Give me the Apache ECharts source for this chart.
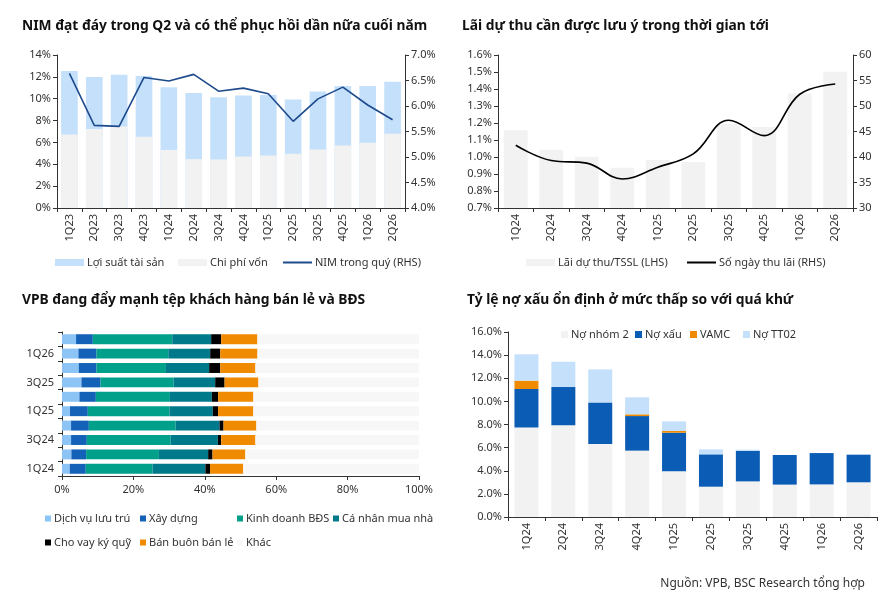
<!DOCTYPE html>
<html>
<head>
<meta charset="utf-8">
<script src="https://cdn.jsdelivr.net/npm/echarts@6/dist/echarts.min.js"></script>
<style>
  html, body { margin: 0; padding: 0; background: #fff; }
  #chart { width: 887px; height: 601px; }
</style>
</head>
<body>
<div id="chart"></div>
<script>
// Biểu đồ 1: NIM
const nimCats = ['1Q23', '2Q23', '3Q23', '4Q23', '1Q24', '2Q24', '3Q24', '4Q24', '1Q25', '2Q25', '3Q25', '4Q25', '1Q26', '2Q26'];
const assetYield = [12.54, 11.99, 12.2, 12.08, 11.05, 10.53, 10.13, 10.29, 10.35, 9.92, 10.65, 11.17, 11.17, 11.56];
const fundingCost = [6.73, 7.24, 7.46, 6.51, 5.30, 4.47, 4.44, 4.72, 4.81, 4.96, 5.36, 5.72, 5.96, 6.79];
const nimQuarter = [6.64, 5.62, 5.60, 6.56, 6.49, 6.62, 6.29, 6.35, 6.24, 5.70, 6.14, 6.37, 6.02, 5.73];

// Biểu đồ 2: lãi dự thu
const accrCats = ['1Q24', '2Q24', '3Q24', '4Q24', '1Q25', '2Q25', '3Q25', '4Q25', '1Q26', '2Q26'];
const accruedRatio = [1.158, 1.042, 1.001, 0.937, 0.982, 0.970, 1.195, 1.177, 1.373, 1.502];
const interestDays = [42.3, 39.3, 38.8, 35.7, 38.0, 40.6, 47.2, 44.2, 52.3, 54.3];

// Biểu đồ 3: cơ cấu cho vay (từ 1Q24 đến 2Q26)
const loanCats = ['1Q24', '2Q24', '3Q24', '4Q24', '1Q25', '2Q25', '3Q25', '4Q25', '1Q26', '2Q26'];
const loanLodging = [2.16, 2.63, 2.54, 2.54, 2.25, 4.88, 5.45, 4.69, 4.6, 3.94];
const loanConstruction = [4.5, 4.13, 4.41, 4.98, 4.98, 4.6, 5.35, 4.98, 5.07, 4.69];
const loanRealEstate = [18.7, 20.38, 23.47, 24.3, 22.9, 20.75, 20.47, 19.44, 20.1, 22.25];
const loanHome = [14.8, 13.8, 13.24, 12.3, 12.1, 11.74, 11.64, 12.11, 11.74, 10.9];
const loanMargin = [1.31, 1.22, 0.94, 1.13, 1.5, 1.78, 2.63, 3.1, 2.82, 2.82];
const loanTrade = [9.3, 9.2, 9.58, 9.2, 9.86, 9.86, 9.48, 9.86, 10.42, 10.14];
const loanOther = [49.2, 48.6, 45.8, 45.55, 46.4, 46.4, 45.0, 45.8, 45.25, 45.3];

// Biểu đồ 4: nợ xấu
const npCats = ['1Q24', '2Q24', '3Q24', '4Q24', '1Q25', '2Q25', '3Q25', '4Q25', '1Q26', '2Q26'];
const group2 = [7.75, 7.93, 6.31, 5.74, 3.95, 2.62, 3.08, 2.8, 2.82, 3.0];
const badDebt = [3.32, 3.31, 3.6, 2.99, 3.34, 2.8, 2.63, 2.56, 2.71, 2.39];
const vamc = [0.72, 0, 0, 0.15, 0.15, 0, 0, 0, 0, 0];
const tt02 = [2.28, 2.19, 2.85, 1.47, 0.83, 0.43, 0.11, 0, 0, 0];

const FONT = 'Noto Sans';
const TXT = '#333';
const AX = '#333';

const axisLine = { show: true, lineStyle: { color: AX, width: 1 } };
const axisTick = { show: true, length: 4, lineStyle: { color: AX } };
const labelStyle = { color: TXT, fontSize: 11, fontFamily: FONT };

function legendItem(name, left, top, w, h) {
  return {
    data: [name], left: left, top: top, padding: 0,
    icon: 'rect', itemWidth: w, itemHeight: h, itemGap: 0,
    selectedMode: false,
    textStyle: { color: TXT, fontSize: 11, fontFamily: FONT, padding: [0, 0, 0, -2] }
  };
}

function catAxis(grid, data, extra) {
  return Object.assign({
    type: 'category', gridIndex: grid, data: data,
    axisLine: axisLine, axisTick: Object.assign({ interval: 0 }, axisTick),
    axisLabel: Object.assign({ rotate: 90, margin: 6, interval: 0 }, labelStyle),
    splitLine: { show: false }
  }, extra || {});
}

function valAxis(grid, min, max, interval, fmt, extra) {
  return Object.assign({
    type: 'value', gridIndex: grid, min: min, max: max, interval: interval,
    axisLine: axisLine, axisTick: axisTick,
    axisLabel: Object.assign({ formatter: fmt, margin: 6 }, labelStyle),
    splitLine: { show: false }
  }, extra || {});
}

const titleStyle = { color: '#111', fontSize: 13.8, fontWeight: 'bold', fontFamily: FONT };

const option = {
  backgroundColor: '#fff',
  animation: false,
  title: [
    { text: 'NIM đạt đáy trong Q2 và có thể phục hồi dần nữa cuối năm', left: 22, top: 19, padding: 0, textStyle: titleStyle },
    { text: 'Lãi dự thu cần được lưu ý trong thời gian tới', left: 462, top: 19, padding: 0, textStyle: titleStyle },
    { text: 'VPB đang đẩy mạnh tệp khách hàng bán lẻ và BĐS', left: 22, top: 293, padding: 0, textStyle: titleStyle },
    { text: 'Tỷ lệ nợ xấu ổn định ở mức thấp so với quá khứ', left: 467, top: 293, padding: 0, textStyle: titleStyle },
    { text: 'Nguồn: VPB, BSC Research tổng hợp', right: 22, top: 578, padding: 0,
      textStyle: { color: TXT, fontSize: 12, fontWeight: 'normal', fontFamily: FONT } }
  ],
  legend: [
    legendItem('Lợi suất tài sản', 55, 257, 29, 7),
    legendItem('Chi phí vốn', 178, 257, 29, 7),
    legendItem('NIM trong quý (RHS)', 283, 257, 29, 2),
    legendItem('Lãi dự thu/TSSL (LHS)', 526, 257, 29, 7),
    legendItem('Số ngày thu lãi (RHS)', 687, 257, 29, 2),
    legendItem('Dịch vụ lưu trú', 45, 513, 6, 6),
    legendItem('Xây dựng', 140, 513, 6, 6),
    legendItem('Kinh doanh BĐS', 237, 513, 6, 6),
    legendItem('Cá nhân mua nhà', 333, 513, 6, 6),
    legendItem('Cho vay ký quỹ', 45, 537, 6, 6),
    legendItem('Bán buôn bán lẻ', 140, 537, 6, 6),
    legendItem('Khác', 237, 537, 6, 6),
    legendItem('Nợ nhóm 2', 561, 329, 7, 7),
    legendItem('Nợ xấu', 635, 329, 7, 7),
    legendItem('VAMC', 690, 329, 7, 7),
    legendItem('Nợ TT02', 743, 329, 7, 7)
  ],
  grid: [
    { left: 57, right: 482, top: 55, bottom: 393 },
    { left: 498, right: 34, top: 55, bottom: 393 },
    { left: 62, right: 468, top: 332, bottom: 125 },
    { left: 508, right: 10, top: 332, bottom: 84 }
  ],
  xAxis: [
    catAxis(0, nimCats),
    catAxis(1, accrCats),
    valAxis(2, 0, 100, 20, '{value}%', { axisLabel: Object.assign({ formatter: '{value}%', margin: 8 }, labelStyle) }),
    catAxis(3, npCats)
  ],
  yAxis: [
    valAxis(0, 0, 14, 2, '{value}%'),
    valAxis(0, 4, 7, 0.5, v => v.toFixed(1) + '%', { position: 'right' }),
    valAxis(1, 0.7, 1.6, 0.1, v => v.toFixed(1) + '%'),
    valAxis(1, 30, 60, 5, '{value}', { position: 'right' }),
    catAxis(2, loanCats, {
      axisLabel: Object.assign({ rotate: 0, margin: 8, interval: 1 }, labelStyle),
      axisTick: Object.assign({ interval: 0 }, axisTick)
    }),
    valAxis(3, 0, 16, 2, v => v.toFixed(1) + '%')
  ],
  series: [
    { name: 'Lợi suất tài sản', type: 'bar', xAxisIndex: 0, yAxisIndex: 0, data: assetYield,
      itemStyle: { color: '#c5e0fa' }, barCategoryGap: '33%', barGap: '-100%' },
    { name: 'Chi phí vốn', type: 'bar', xAxisIndex: 0, yAxisIndex: 0, data: fundingCost,
      itemStyle: { color: '#f2f2f2' }, barCategoryGap: '33%', barGap: '-100%' },
    { name: 'NIM trong quý (RHS)', type: 'line', xAxisIndex: 0, yAxisIndex: 1, data: nimQuarter,
      symbol: 'none', lineStyle: { color: '#1d4a8c', width: 1.6 }, itemStyle: { color: '#1d4a8c' } },

    { name: 'Lãi dự thu/TSSL (LHS)', type: 'bar', xAxisIndex: 1, yAxisIndex: 2, data: accruedRatio,
      itemStyle: { color: '#f2f2f2' }, barCategoryGap: '33%' },
    { name: 'Số ngày thu lãi (RHS)', type: 'line', xAxisIndex: 1, yAxisIndex: 3, data: interestDays,
      symbol: 'none', smooth: 0.4, lineStyle: { color: '#000', width: 1.6 }, itemStyle: { color: '#000' } },

    { name: 'Dịch vụ lưu trú', type: 'bar', stack: 'loan', xAxisIndex: 2, yAxisIndex: 4, data: loanLodging,
      itemStyle: { color: '#8cc4f5' }, barCategoryGap: '31%' },
    { name: 'Xây dựng', type: 'bar', stack: 'loan', xAxisIndex: 2, yAxisIndex: 4, data: loanConstruction,
      itemStyle: { color: '#1461b8' }, barCategoryGap: '31%' },
    { name: 'Kinh doanh BĐS', type: 'bar', stack: 'loan', xAxisIndex: 2, yAxisIndex: 4, data: loanRealEstate,
      itemStyle: { color: '#00a08a' }, barCategoryGap: '31%' },
    { name: 'Cá nhân mua nhà', type: 'bar', stack: 'loan', xAxisIndex: 2, yAxisIndex: 4, data: loanHome,
      itemStyle: { color: '#00798a' }, barCategoryGap: '31%' },
    { name: 'Cho vay ký quỹ', type: 'bar', stack: 'loan', xAxisIndex: 2, yAxisIndex: 4, data: loanMargin,
      itemStyle: { color: '#000000' }, barCategoryGap: '31%' },
    { name: 'Bán buôn bán lẻ', type: 'bar', stack: 'loan', xAxisIndex: 2, yAxisIndex: 4, data: loanTrade,
      itemStyle: { color: '#f08a00' }, barCategoryGap: '31%' },
    { name: 'Khác', type: 'bar', stack: 'loan', xAxisIndex: 2, yAxisIndex: 4, data: loanOther,
      itemStyle: { color: '#f7f7f7' }, barCategoryGap: '31%' },

    { name: 'Nợ nhóm 2', type: 'bar', stack: 'npl', xAxisIndex: 3, yAxisIndex: 5, data: group2,
      itemStyle: { color: '#f2f2f2' }, barCategoryGap: '35%' },
    { name: 'Nợ xấu', type: 'bar', stack: 'npl', xAxisIndex: 3, yAxisIndex: 5, data: badDebt,
      itemStyle: { color: '#0b5cb4' }, barCategoryGap: '35%' },
    { name: 'VAMC', type: 'bar', stack: 'npl', xAxisIndex: 3, yAxisIndex: 5, data: vamc,
      itemStyle: { color: '#f08a00' }, barCategoryGap: '35%' },
    { name: 'Nợ TT02', type: 'bar', stack: 'npl', xAxisIndex: 3, yAxisIndex: 5, data: tt02,
      itemStyle: { color: '#c5e0fa' }, barCategoryGap: '35%' }
  ]
};

const chart = echarts.init(document.getElementById('chart'));
chart.setOption(option);
</script>
</body>
</html>
